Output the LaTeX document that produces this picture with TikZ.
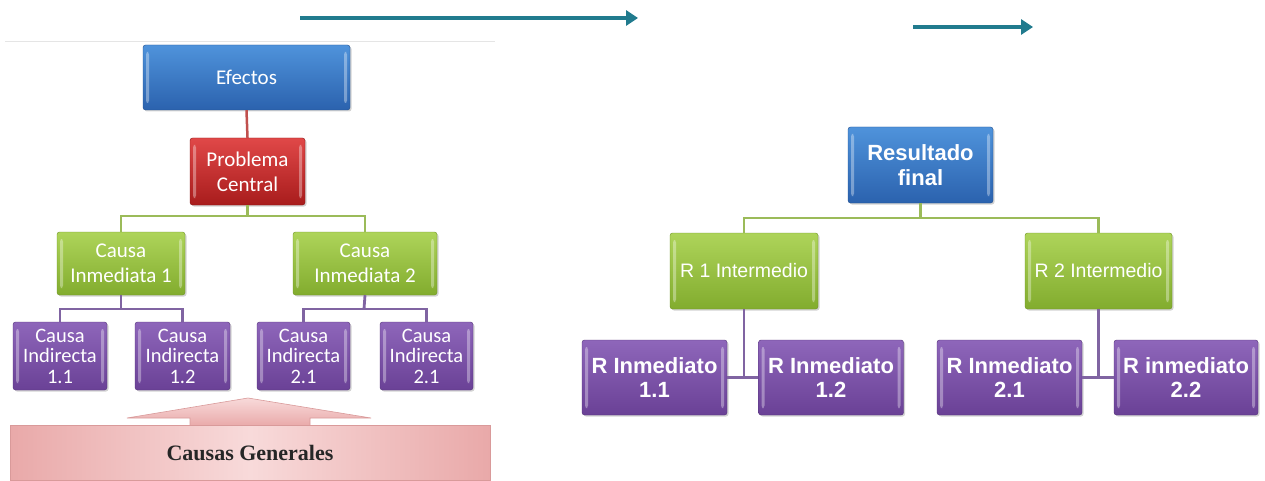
\documentclass[tikz,border=0pt]{standalone}
\usepackage{fontspec}
\setmainfont{Liberation Serif}
\newfontfamily\leftfont{Carlito}
\newfontfamily\rightfont{Liberation Sans}
\usetikzlibrary{arrows.meta,shadows,calc}
\definecolor{bluetop}{HTML}{4F93DB}
\definecolor{bluebot}{HTML}{2B62AE}
\definecolor{blueedge}{HTML}{234F8C}
\definecolor{redtop}{HTML}{E04848}
\definecolor{redbot}{HTML}{A81C1C}
\definecolor{rededge}{HTML}{8A1515}
\definecolor{greentop}{HTML}{AED45A}
\definecolor{greenbot}{HTML}{82AC2E}
\definecolor{greenedge}{HTML}{6E9424}
\definecolor{purptop}{HTML}{8E66BA}
\definecolor{purpbot}{HTML}{6A4196}
\definecolor{purpedge}{HTML}{55337A}
\definecolor{redline}{HTML}{C0504D}
\definecolor{greenline}{HTML}{9BBB59}
\definecolor{purpline}{HTML}{8064A2}
\definecolor{tealc}{HTML}{217B8E}
\definecolor{pinktop}{HTML}{F8DADA}
\definecolor{pinkbot}{HTML}{E9A9A9}
\definecolor{pinkedge}{HTML}{D99A9A}
\tikzset{
  bevelbox/.style={rectangle, rounded corners=2.5pt, text=white, align=center,
    inner sep=0pt, drop shadow={shadow xshift=1.5pt, shadow yshift=-1.5pt, opacity=0.35},
    path picture={
      \fill[white,opacity=0.35] ([xshift=3pt,yshift=-7pt]path picture bounding box.north west)
        rectangle ([xshift=6pt,yshift=7pt]path picture bounding box.south west);
      \fill[white,opacity=0.35] ([xshift=-3pt,yshift=-7pt]path picture bounding box.north east)
        rectangle ([xshift=-6pt,yshift=7pt]path picture bounding box.south east);
    }},
  bluebox/.style={bevelbox, top color=bluetop, bottom color=bluebot, draw=blueedge},
  redbox/.style={bevelbox, top color=redtop, bottom color=redbot, draw=rededge},
  greenbox/.style={bevelbox, top color=greentop, bottom color=greenbot, draw=greenedge},
  purpbox/.style={bevelbox, top color=purptop, bottom color=purpbot, draw=purpedge},
  lfont/.style={font=\leftfont\fontsize{21}{25}\selectfont},
  lsmall/.style={font=\leftfont\fontsize{20.5}{20.5}\selectfont},
  rbold/.style={font=\rightfont\bfseries\fontsize{22}{24.5}\selectfont},
  rreg/.style={font=\rightfont\fontsize{19.5}{22}\selectfont},
  redconn/.style={draw=redline, line width=2.5pt},
  greenconn/.style={draw=greenline, line width=2.5pt},
  purpconn/.style={draw=purpline, line width=2.8pt},
  tealarrow/.style={draw=tealc, line width=3.5pt, -{Triangle[length=12pt,width=15pt]}},
}
\begin{document}
\begin{tikzpicture}[x=1pt,y=-1pt]
\useasboundingbox (0,0) rectangle (1265,481);
% faint border line of left picture
\draw[gray!20, line width=1pt] (5,42) -- (495,42);
% top arrows
\coordinate (a1s) at (300,18);
\coordinate (a1e) at (638,18);
\coordinate (a2s) at (913,27);
\coordinate (a2e) at (1033,27);
\draw[tealarrow] (a1s) -- (a1e);
\draw[tealarrow] (a2s) -- (a2e);

% ---------- left diagram ----------
\node[bluebox, lfont, minimum width=207pt, minimum height=65pt] (eff) at (246.5,77.5) {Efectos};
\node[redbox, lfont, minimum width=115pt, minimum height=67pt] (prob) at (247.5,171.5) {Problema\\Central};
\node[greenbox, lfont, minimum width=128pt, minimum height=63pt] (ci1) at (121,263.5) {Causa\\Inmediata 1};
\node[greenbox, lfont, minimum width=144pt, minimum height=63pt] (ci2) at (365,263.5) {Causa\\Inmediata 2};
\node[purpbox, lsmall, minimum width=94pt, minimum height=68pt] (i11) at (60,356) {Causa\\Indirecta\\1.1};
\node[purpbox, lsmall, minimum width=95pt, minimum height=68pt] (i12) at (182.5,356) {Causa\\Indirecta\\1.2};
\node[purpbox, lsmall, minimum width=93pt, minimum height=68pt] (i21) at (303.5,356) {Causa\\Indirecta\\2.1};
\node[purpbox, lsmall, minimum width=93pt, minimum height=68pt] (i22) at (426.5,356) {Causa\\Indirecta\\2.1};

\path[redconn] (eff.south) -- (prob.north);
\coordinate (lg) at (247.5,216);
\path[greenconn] (prob.south) -- (lg);
\path[greenconn] (ci1.north) |- (lg) -| (ci2.north);
\coordinate (lp1) at (121,309);
\coordinate (lp2) at (364,309);
\path[purpconn] (ci1.south) -- (lp1);
\path[purpconn] (i11.north) |- (lp1) -| (i12.north);
\path[purpconn] (ci2.south) -- (lp2);
\path[purpconn] (i21.north) |- (lp2) -| (i22.north);

% Causas Generales arrow and bar
\path[top color=pinktop, bottom color=pinkbot, draw=pinkedge, line width=0.6pt]
  (190,426) -- (190,418) -- (127,418) -- (248,398) -- (371,418) -- (310,418) -- (310,426) -- cycle;
\node[rectangle, minimum width=480pt, minimum height=55pt, draw=pinkedge,
      left color=pinkbot, right color=pinkbot, middle color=pinktop,
      font=\bfseries\fontsize{22}{24}\selectfont, text=black!85] (cg) at (250,452.5) {Causas Generales};

% ---------- right diagram ----------
\node[bluebox, rbold, minimum width=145pt, minimum height=76pt] (res) at (920.5,165) {Resultado\\final};
\node[greenbox, rreg, minimum width=148pt, minimum height=76pt] (r1) at (744,271) {R 1 Intermedio};
\node[greenbox, rreg, minimum width=147pt, minimum height=76pt] (r2) at (1098.5,271) {R 2 Intermedio};
\node[purpbox, rbold, minimum width=145pt, minimum height=75pt] (ri11) at (654.5,377.5) {R Inmediato\\1.1};
\node[purpbox, rbold, minimum width=145pt, minimum height=75pt] (ri12) at (831,377.5) {R Inmediato\\1.2};
\node[purpbox, rbold, minimum width=145pt, minimum height=75pt] (ri21) at (1009.5,377.5) {R Inmediato\\2.1};
\node[purpbox, rbold, minimum width=144pt, minimum height=75pt] (ri22) at (1186,377.5) {R inmediato\\2.2};

\coordinate (rg) at (920.5,218);
\path[greenconn] (res.south) -- (rg);
\path[greenconn] (r1.north) |- (rg) -| (r2.north);
\path[purpconn] (r1.south) -- (r1.south |- ri11.east);
\path[purpconn] (ri11.east) -- (ri12.west);
\path[purpconn] (r2.south) -- (r2.south |- ri21.east);
\path[purpconn] (ri21.east) -- (ri22.west);
\end{tikzpicture}
\end{document}
